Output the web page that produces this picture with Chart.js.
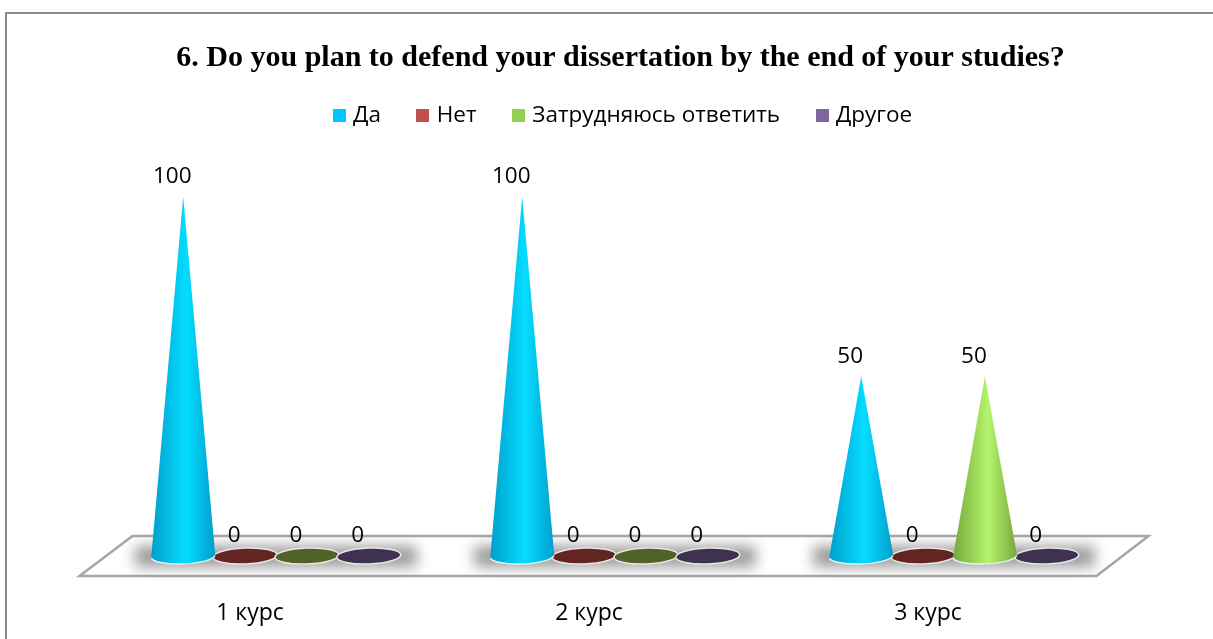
<!DOCTYPE html>
<html>
<head>
<meta charset="utf-8">
<title>Chart</title>
<script src="https://cdn.jsdelivr.net/npm/chart.js@4"></script>
<style>
  html, body { margin: 0; padding: 0; background: #fff; }
  #wrap { width: 1213px; height: 639px; }
</style>
</head>
<body>
<div id="wrap"><canvas id="coneChart"></canvas></div>
<script>
// Chart values
var categories = ["1 курс", "2 курс", "3 курс"];
var seriesNames = ["Да", "Нет", "Затрудняюсь ответить", "Другое"];
var daValues = [100, 100, 50];
var netValues = [0, 0, 0];
var hardValues = [0, 0, 50];
var otherValues = [0, 0, 0];

// Colours per series
var legendColors = ["#00c8ff", "#c0504d", "#92d050", "#8064a2"];
var coneEdge = ["#009fcb", "#8c3a38", "#76a83b", "#5c4878"];
var coneMid = ["#05dcff", "#d9625f", "#b4f56c", "#9a7cc0"];
var flatColors = ["#00a5d0", "#632523", "#4f6228", "#3f3151"];

// Little square used as the legend marker
function legendSquare(color) {
  var c = document.createElement("canvas");
  c.width = 13;
  c.height = 13;
  var g = c.getContext("2d");
  g.fillStyle = color;
  g.fillRect(0, 0, 13, 13);
  return c;
}

function baseEllipse(ctx, x, y, rx, ry) {
  ctx.beginPath();
  ctx.ellipse(x, y, rx, ry, -0.04, 0, Math.PI * 2);
}

// Frame, floor plate and the blurred shadow under each group
var floorPlugin = {
  id: "floorPlugin",
  afterLayout: function(chart) {
    // title and legend are not centred on the plot in the original
    chart.titleBlock.left += 5.5;
    chart.titleBlock.right += 5.5;
    chart.legend.left += 9.5;
    chart.legend.right += 9.5;
    chart.legend.top -= 60;
  },
  beforeDraw: function(chart) {
    var ctx = chart.ctx;
    var area = chart.chartArea;
    ctx.save();
    ctx.fillStyle = "#fff";
    ctx.fillRect(0, 0, chart.width, chart.height);
    ctx.strokeStyle = "#8c8c8c";
    ctx.lineWidth = 2;
    ctx.strokeRect(6, 13, 1300, 700);
    ctx.restore();

    ctx.save();
    ctx.beginPath();
    ctx.moveTo(area.left - 27, area.bottom + 20);
    ctx.lineTo(area.right - 27, area.bottom + 20);
    ctx.lineTo(area.right + 25, area.bottom - 20);
    ctx.lineTo(area.left + 26, area.bottom - 20);
    ctx.closePath();
    ctx.fillStyle = "#fff";
    ctx.fill();
    ctx.strokeStyle = "#a6a6a6";
    ctx.lineWidth = 2.5;
    ctx.stroke();
    ctx.restore();
  },
  beforeDatasetsDraw: function(chart) {
    var ctx = chart.ctx;
    var first = chart.getDatasetMeta(0).data;
    var last = chart.getDatasetMeta(3).data;
    var base = chart.chartArea.bottom;
    ctx.save();
    ctx.filter = "blur(7px)";
    ctx.fillStyle = "#9a9a9a";
    for (var i = 0; i < first.length; i++) {
      ctx.fillRect(first[i].x - 48, base - 10, last[i].x - first[i].x + 96, 21);
    }
    ctx.restore();
  }
};

// Draws each bar as a cone (or a flat disc when the value is zero), with its value above
var conePlugin = {
  id: "conePlugin",
  afterDatasetsDraw: function(chart) {
    var ctx = chart.ctx;
    var rx = 32;
    var ry = 8;
    var d, i, bar, meta, value;

    ctx.save();
    // discs first so the cones sit on top of them
    for (d = 0; d < chart.data.datasets.length; d++) {
      meta = chart.getDatasetMeta(d);
      for (i = 0; i < meta.data.length; i++) {
        if (chart.data.datasets[d].data[i] !== 0) continue;
        bar = meta.data[i];
        baseEllipse(ctx, bar.x, bar.base, rx, ry);
        ctx.fillStyle = flatColors[d];
        ctx.fill();
        ctx.strokeStyle = "#ece6e6";
        ctx.lineWidth = 1.5;
        ctx.stroke();
      }
    }

    for (d = 0; d < chart.data.datasets.length; d++) {
      meta = chart.getDatasetMeta(d);
      for (i = 0; i < meta.data.length; i++) {
        if (chart.data.datasets[d].data[i] === 0) continue;
        bar = meta.data[i];
        var grad = ctx.createLinearGradient(bar.x - rx, 0, bar.x + rx, 0);
        grad.addColorStop(0, coneEdge[d]);
        grad.addColorStop(0.55, coneMid[d]);
        grad.addColorStop(1, coneEdge[d]);
        ctx.beginPath();
        ctx.moveTo(bar.x, bar.y);
        ctx.lineTo(bar.x + rx, bar.base - 1);
        ctx.ellipse(bar.x, bar.base, rx, ry, -0.04, 0, Math.PI);
        ctx.closePath();
        ctx.fillStyle = grad;
        ctx.fill();
        ctx.beginPath();
        ctx.ellipse(bar.x, bar.base, rx, ry, -0.04, 0.1, Math.PI - 0.1);
        ctx.strokeStyle = "#e4f2f4";
        ctx.lineWidth = 1.5;
        ctx.stroke();
      }
    }

    // value labels
    ctx.fillStyle = "#000";
    ctx.font = "22.5px 'Open Sans'";
    ctx.textAlign = "center";
    ctx.textBaseline = "middle";
    for (d = 0; d < chart.data.datasets.length; d++) {
      meta = chart.getDatasetMeta(d);
      for (i = 0; i < meta.data.length; i++) {
        bar = meta.data[i];
        value = chart.data.datasets[d].data[i];
        ctx.fillText(String(value), bar.x - 11, bar.y - 20);
      }
    }
    ctx.restore();
  }
};

var seriesValues = [daValues, netValues, hardValues, otherValues];
var datasets = seriesNames.map(function(name, i) {
  return {
    label: name,
    data: seriesValues[i],
    backgroundColor: "rgba(0,0,0,0)",
    borderWidth: 0
  };
});

var ctx = document.getElementById("coneChart").getContext("2d");
var coneChart = new Chart(ctx, {
  type: "bar",
  data: { labels: categories, datasets: datasets },
  plugins: [floorPlugin, conePlugin],
  options: {
    responsive: true,
    maintainAspectRatio: false,
    animation: false,
    categoryPercentage: 0.73,
    barPercentage: 1,
    layout: { padding: { left: 106.5, right: 89.5, top: 0, bottom: 0 } },
    plugins: {
      tooltip: { enabled: false },
      title: {
        display: true,
        text: "6. Do you plan to defend your dissertation by the end of your studies?",
        color: "#000",
        font: { family: "'Liberation Serif'", size: 30, weight: "bold" },
        padding: { top: 40.5, bottom: 48 }
      },
      legend: {
        display: true,
        position: "top",
        labels: {
          color: "#000",
          font: { family: "'Open Sans'", size: 22.5 },
          usePointStyle: true,
          pointStyleWidth: 5,
          boxHeight: 13,
          padding: 39.5,
          generateLabels: function(chart) {
            return seriesNames.map(function(name, i) {
              return {
                text: name,
                pointStyle: legendSquare(legendColors[i]),
                datasetIndex: i,
                lineWidth: 0
              };
            });
          }
        }
      }
    },
    scales: {
      x: {
        grid: { display: false },
        border: { display: false },
        afterFit: function(scale) {
          scale.height = 83;
        },
        ticks: {
          color: "#000",
          padding: 36,
          labelOffset: -26,
          maxRotation: 0,
          font: { family: "'Open Sans'", size: 23 }
        }
      },
      y: {
        display: false,
        min: 0,
        max: 100
      }
    }
  }
});
</script>
</body>
</html>
